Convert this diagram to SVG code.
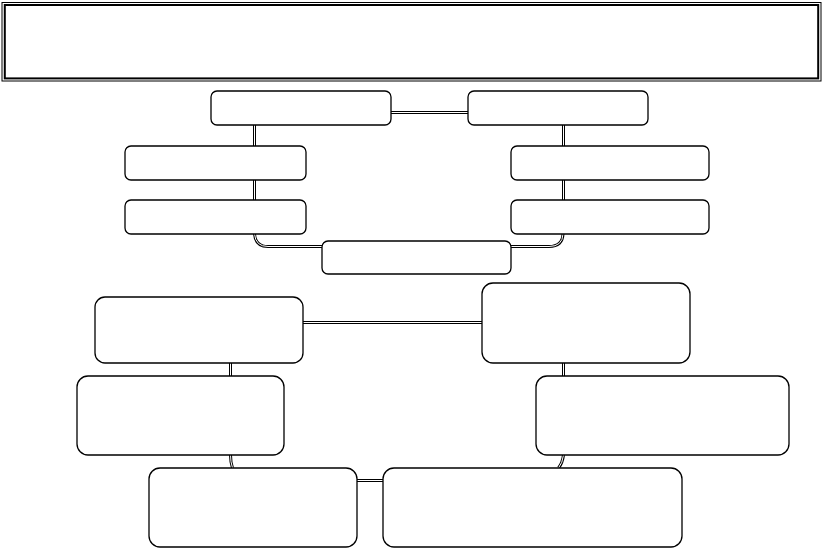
<svg xmlns="http://www.w3.org/2000/svg" width="824" height="550" viewBox="0 0 824 550">
  <style>
    .box { fill: #fff; stroke: #000; stroke-width: 1.3; }
    .c-out { fill: none; stroke: #000; stroke-width: 3; }
    .c-in { fill: none; stroke: #fff; stroke-width: 1; }
  </style>
  <defs>
    <g id="allc">
      <path d="M391,112.5 H468"/>
      <path d="M254.5,125 V146"/>
      <path d="M254.5,180 V200"/>
      <path d="M254.5,234 Q255.5,246.5 268,246.5 H322"/>
      <path d="M563.5,125 V146"/>
      <path d="M563.5,180 V200"/>
      <path d="M511,246.5 H549 Q562.5,246.5 563,234"/>
      <path d="M303,322.5 H482"/>
      <path d="M230.5,363 V376"/>
      <path d="M563.5,363 V376"/>
      <path d="M230.5,455 Q230.5,462 232.5,468"/>
      <path d="M563.5,455 Q562.5,463 558.5,468"/>
      <path d="M357,480.5 H383"/>
    </g>
  </defs>
  <rect width="824" height="550" fill="#fff"/>
  <g id="title">
    <rect x="2" y="2.5" width="819" height="78.5" fill="#fff" stroke="#000" stroke-width="1"/>
    <rect x="4.8" y="5" width="813.4" height="73.4" fill="none" stroke="#000" stroke-width="2"/>
  </g>
  <g id="connectors">
    <use href="#allc" class="c-out"/>
    <use href="#allc" class="c-in"/>
  </g>
  <g id="nodeA"><rect class="box" x="211" y="91" width="180" height="34" rx="6"/></g>
  <g id="nodeB"><rect class="box" x="468" y="91" width="180" height="34" rx="6"/></g>
  <g id="nodeC"><rect class="box" x="125" y="146" width="181" height="34" rx="6"/></g>
  <g id="nodeD"><rect class="box" x="125" y="200" width="181" height="34" rx="6"/></g>
  <g id="nodeG"><rect class="box" x="511" y="146" width="198" height="34" rx="6"/></g>
  <g id="nodeH"><rect class="box" x="511" y="200" width="198" height="34" rx="6"/></g>
  <g id="nodeE"><rect class="box" x="322" y="241" width="189" height="33" rx="6"/></g>
  <g id="nodeI"><rect class="box" x="95" y="297" width="208" height="66" rx="10"/></g>
  <g id="nodeJ"><rect class="box" x="482" y="283" width="208" height="80" rx="11"/></g>
  <g id="nodeK"><rect class="box" x="77" y="376" width="207" height="79" rx="11"/></g>
  <g id="nodeL"><rect class="box" x="536" y="376" width="253" height="79" rx="11"/></g>
  <g id="nodeM"><rect class="box" x="149" y="468" width="208" height="79" rx="11"/></g>
  <g id="nodeN"><rect class="box" x="383" y="468" width="299" height="79" rx="11"/></g>
</svg>
